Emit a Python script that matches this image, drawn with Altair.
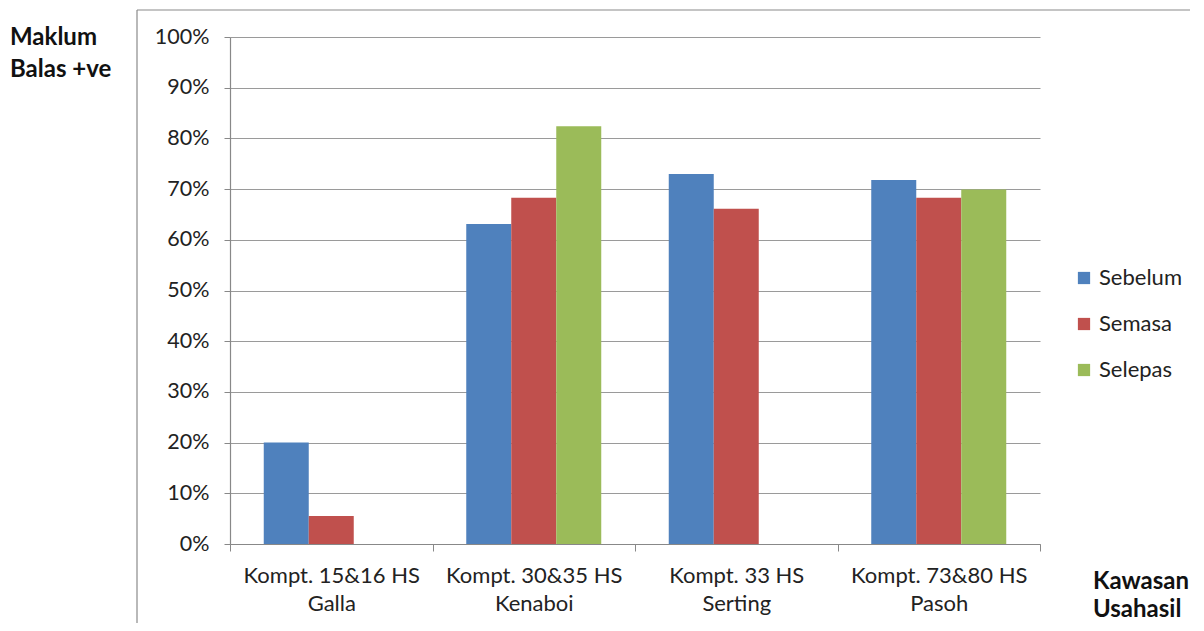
import altair as alt
import pandas as pd

categories = ["Kompt. 15&16 HS|Galla", "Kompt. 30&35 HS|Kenaboi", "Kompt. 33 HS|Serting", "Kompt. 73&80 HS|Pasoh"]
series = ["Sebelum", "Semasa", "Selepas"]
sebelum = [0.200, 0.631, 0.730, 0.718]
semasa = [0.055, 0.683, 0.661, 0.683]
selepas = [None, 0.824, None, 0.699]
colors = ["#4F81BD", "#C0504D", "#9BBB59"]

rows = []
for i, c in enumerate(categories):
    for s, vals in zip(series, [sebelum, semasa, selepas]):
        if vals[i] is not None:
            rows.append({"cat": c, "series": s, "val": vals[i]})
df = pd.DataFrame(rows)

FONT = "Lato"
W, H = 810, 507

bars = alt.Chart(df).mark_bar().encode(
    x=alt.X("cat:N", sort=categories,
            scale=alt.Scale(paddingInner=0, paddingOuter=0),
            axis=alt.Axis(title=None, labelAngle=0, labelExpr="split(datum.label, '|')",
                          labelFontSize=22, labelColor="#222222", labelFont=FONT,
                          labelLineHeight=28, labelPadding=14, labelBaseline="top",
                          tickBand="extent", tickSize=7, tickColor="#888888",
                          domainColor="#888888", domainWidth=1.2, grid=False)),
    xOffset=alt.XOffset("series:N", sort=series,
                        scale=alt.Scale(domain=series, paddingInner=0, paddingOuter=0.75)),
    y=alt.Y("val:Q", scale=alt.Scale(domain=[0, 1], nice=False),
            axis=alt.Axis(title=None, format=".0%", values=[i / 10 for i in range(11)],
                          labelFontSize=21.5, labelColor="#222222", labelFont=FONT,
                          labelPadding=15, tickSize=6, tickColor="#888888",
                          domainColor="#888888", domainWidth=1.2,
                          grid=True, gridColor="#9a9a9a", gridWidth=1.2)),
    color=alt.Color("series:N", sort=series,
                    scale=alt.Scale(domain=series, range=colors),
                    legend=alt.Legend(title=None, orient="none", legendX=843, legendY=230,
                                      symbolType="square", symbolSize=150, symbolStrokeWidth=0,
                                      labelFontSize=22, labelFont=FONT, labelColor="#222222",
                                      rowPadding=24, labelOffset=4)),
)

one = pd.DataFrame({"a": [0]})

ytitle = alt.Chart(one).mark_text(
    text=["Maklum", "Balas +ve"], font=FONT, fontSize=24, fontWeight="bold",
    align="left", baseline="middle", lineHeight=32, color="#111111"
).encode(x=alt.value(-220), y=alt.value(1))

xtitle = alt.Chart(one).mark_text(
    text=["Kawasan", "Usahasil"], font=FONT, fontSize=24, fontWeight="bold",
    align="left", baseline="middle", lineHeight=28, color="#111111"
).encode(x=alt.value(863), y=alt.value(545))

frame_left = alt.Chart(one).mark_rule(color="#8a8a8a", strokeWidth=1.2).encode(
    x=alt.value(-93), y=alt.value(-27), y2=alt.value(600))
frame_top = alt.Chart(one).mark_rule(color="#8a8a8a", strokeWidth=1.2).encode(
    x=alt.value(-93), x2=alt.value(960), y=alt.value(-27))

chart = alt.layer(frame_left, frame_top, bars, ytitle, xtitle).properties(
    width=W, height=H,
    padding={"left": 222, "top": 29, "right": 150, "bottom": 79},
    autosize=alt.AutoSizeParams(type="none"),
).configure_view(stroke=None)

chart.save("out.html", embed_options={"renderer": "svg", "actions": False})
